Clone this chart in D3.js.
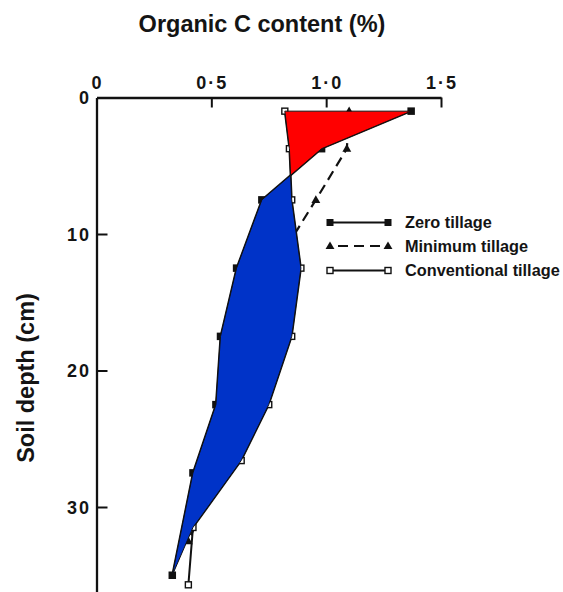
<!DOCTYPE html>
<html>
<head>
<meta charset="utf-8">
<script src="https://cdn.jsdelivr.net/npm/d3@7/dist/d3.min.js"></script>
<style>
  html, body { margin: 0; padding: 0; background: #fff; }
  svg { display: block; }
  text { font-family: "Liberation Sans", Arial, Helvetica, sans-serif; font-weight: bold; fill: #141414; }
</style>
</head>
<body>
<svg id="chart" width="563" height="592"></svg>
<script>
// Organic C content (%) by soil depth (cm) under three tillage systems
const cTicks = [0, 0.5, 1.0, 1.5];
const cTickLabels = ["0", "0·5", "1·0", "1·5"];
const depthTicks = [0, 10, 20, 30];

const zeroDepth = [1, 3.75, 7.5, 12.5, 17.5, 22.5, 27.5, 35];
const zeroC     = [1.37, 0.98, 0.72, 0.61, 0.54, 0.52, 0.42, 0.33];

const minDepth  = [1, 3.75, 7.5, 12.5, 17.5, 22.5, 27.5, 32.5];
const minC      = [1.10, 1.09, 0.955, 0.77, 0.69, 0.62, 0.53, 0.40];

const convDepth = [1, 3.75, 7.5, 12.5, 17.5, 22.5, 26.6, 31.5, 35.7];
const convC     = [0.82, 0.84, 0.85, 0.89, 0.85, 0.75, 0.63, 0.42, 0.40];

const legendLabels = ["Zero tillage", "Minimum tillage", "Conventional tillage"];

const svg = d3.select("#chart");

const x = d3.scaleLinear().domain([0, 1.5]).range([96.5, 441]);
const y = d3.scaleLinear().domain([0, 10]).range([97.5, 234]);
const yMax = y.invert(592);

const pts = (cs, ds) => cs.map((c, i) => [c, ds[i]]);
const zero = pts(zeroC, zeroDepth);
const minimum = pts(minC, minDepth);
const conv = pts(convC, convDepth);

const line = d3.line().x(d => x(d[0])).y(d => y(d[1]));

// ---- axes ----
const axisTopG = svg.append("g").attr("transform", `translate(0,${y(0)})`)
  .call(d3.axisTop(x).tickValues(cTicks).tickSize(-10).tickSizeOuter(0).tickFormat(""));
axisTopG.select(".domain").attr("stroke", "#111").attr("stroke-width", 2.3);
axisTopG.selectAll(".tick line").attr("stroke", "#111").attr("stroke-width", 2);
axisTopG.selectAll(".tick").filter(d => d === 0).select("line").remove();

svg.append("g").selectAll("text").data(cTicks).join("text")
  .attr("x", d => x(d) + 1).attr("y", 89)
  .attr("text-anchor", "middle")
  .style("font-size", "18px").style("letter-spacing", "2px")
  .text((d, i) => cTickLabels[i]);

const axisLeftG = svg.append("g").attr("transform", `translate(${x(0)},0)`)
  .call(d3.axisLeft(y.copy().domain([0, yMax]).range([y(0), 592])).tickValues(depthTicks).tickSize(-11).tickSizeOuter(0).tickFormat(""));
axisLeftG.select(".domain").attr("stroke", "#111").attr("stroke-width", 2.3);
axisLeftG.selectAll(".tick line").attr("stroke", "#111").attr("stroke-width", 2);
axisLeftG.selectAll(".tick").filter(d => d === 0).select("line").remove();

svg.append("g").selectAll("text").data(depthTicks).join("text")
  .attr("x", 91).attr("y", d => y(d) + 6.5)
  .attr("text-anchor", "end")
  .style("font-size", "18px").style("letter-spacing", "2px")
  .text(d => d);

// axis titles
svg.append("text").attr("x", 262).attr("y", 32).attr("text-anchor", "middle")
  .style("font-size", "23.5px").text("Organic C content (%)");
svg.append("text").attr("transform", "translate(34,378) rotate(-90)").attr("text-anchor", "middle")
  .style("font-size", "23.5px").text("Soil depth (cm)");

// ---- series lines ----
svg.append("path").datum(zero).attr("d", line)
  .attr("fill", "none").attr("stroke", "#111").attr("stroke-width", 2);
svg.append("path").datum(conv).attr("d", line)
  .attr("fill", "none").attr("stroke", "#111").attr("stroke-width", 2);
svg.append("path").datum(minimum).attr("d", line)
  .attr("fill", "none").attr("stroke", "#111").attr("stroke-width", 2.2).attr("stroke-dasharray", "10,6");

// ---- markers ----
const sqFilled = (g, data, s) => g.selectAll(null).data(data).join("rect")
  .attr("x", d => x(d[0]) - s / 2).attr("y", d => y(d[1]) - s / 2)
  .attr("width", s).attr("height", s).attr("fill", "#111");
const sqOpen = (g, data, s) => g.selectAll(null).data(data).join("rect")
  .attr("x", d => x(d[0]) - s / 2).attr("y", d => y(d[1]) - s / 2)
  .attr("width", s).attr("height", s).attr("fill", "#fff").attr("stroke", "#111").attr("stroke-width", 1.4);
const tri = d3.symbol().type(d3.symbolTriangle).size(34);
const triMarks = (g, data) => g.selectAll(null).data(data).join("path")
  .attr("d", tri).attr("transform", d => `translate(${x(d[0])},${y(d[1]) + 0.5})`).attr("fill", "#111");

const markers = svg.append("g");
sqFilled(markers.append("g"), zero, 7.5);
triMarks(markers.append("g"), minimum);
sqOpen(markers.append("g"), conv, 6);

// ---- shaded differences between zero and conventional tillage ----
// crossing of the two profiles between the 2nd and 3rd sampling depths
function crossing(a0, a1, b0, b1) {
  const t = (b0[0] - a0[0]) / ((a1[0] - a0[0]) - (b1[0] - b0[0]));
  return [a0[0] + t * (a1[0] - a0[0]), a0[1] + t * (a1[1] - a0[1])];
}
const cross = crossing(zero[1], zero[2], conv[1], conv[2]);

const redArea = [conv[0], zero[0], zero[1], cross, conv[1]];
const blueArea = [cross, ...conv.slice(2, 8), zero[7], ...zero.slice(2, 7).reverse()];

const poly = d3.line().x(d => x(d[0])).y(d => y(d[1])).curve(d3.curveLinearClosed);
svg.append("path").datum(redArea).attr("d", poly)
  .attr("fill", "#ff0000").attr("stroke", "#111").attr("stroke-width", 1).attr("stroke-linejoin", "round");
svg.append("path").datum(blueArea).attr("d", poly)
  .attr("fill", "#0033c8").attr("stroke", "#111").attr("stroke-width", 1).attr("stroke-linejoin", "round");

// ---- legend ----
const lg = svg.append("g");
const rows = [222.5, 246, 270.5];
const lx0 = 330, lx1 = 388;
rows.forEach((ry, i) => {
  lg.append("line").attr("x1", lx0).attr("x2", lx1).attr("y1", ry).attr("y2", ry)
    .attr("stroke", "#111").attr("stroke-width", i === 1 ? 2.2 : 2)
    .attr("stroke-dasharray", i === 1 ? "10,6" : null)
    .attr("stroke-dashoffset", i === 1 ? -8 : null);
  lg.append("text").attr("x", 405).attr("y", ry + 5.5).style("font-size", "16.3px").text(legendLabels[i]);
});
const lgPts = (ry) => [[x.invert(lx0), y.invert(ry)], [x.invert(lx1), y.invert(ry)]];
sqFilled(lg.append("g"), lgPts(rows[0]), 7);
triMarks(lg.append("g"), lgPts(rows[1]));
sqOpen(lg.append("g"), lgPts(rows[2]), 6);
</script>
</body>
</html>
